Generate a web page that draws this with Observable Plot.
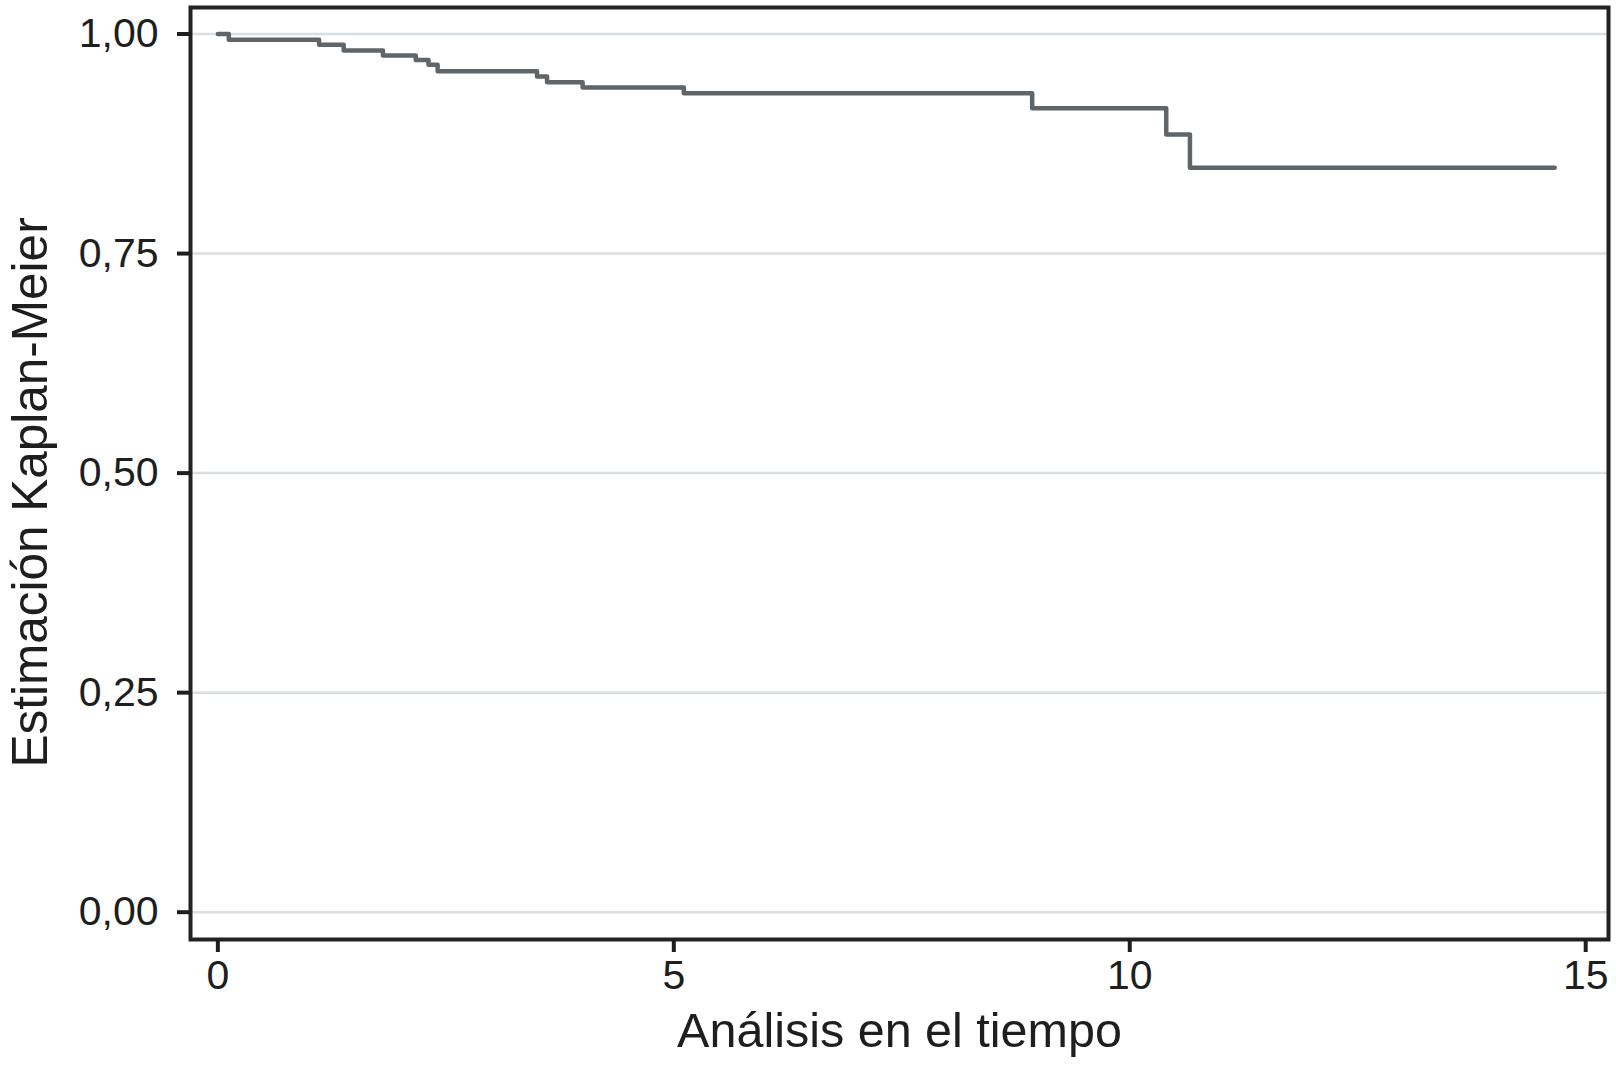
<!DOCTYPE html>
<html>
<head>
<meta charset="utf-8">
<script src="https://cdn.jsdelivr.net/npm/d3@7"></script>
<script src="https://cdn.jsdelivr.net/npm/@observablehq/plot@0.6"></script>
<style>
  html, body { margin: 0; padding: 0; background: #fff; }
</style>
</head>
<body>
<div id="chart"></div>
<script>
// Kaplan-Meier step curve
const times = [0, 0.12, 1.11, 1.38, 1.81, 2.17, 2.31, 2.41, 3.50, 3.61, 4.00, 5.11, 8.93, 10.40, 10.66, 14.66];
const survival = [1.0, 0.9934, 0.9877, 0.9812, 0.9755, 0.9705, 0.9650, 0.9577, 0.9516, 0.9451, 0.9390, 0.9326, 0.9155, 0.8856, 0.8476, 0.8476];
const yTicks = [0, 0.25, 0.5, 0.75, 1];
const xTicks = [0, 5, 10, 15];
const xTitle = "Análisis en el tiempo";
const yTitle = "Estimación Kaplan-Meier";

const data = times.map((t, i) => ({t, s: survival[i]}));
const fmtY = d => d.toFixed(2).replace(".", ",");

const chart = Plot.plot({
  width: 1616,
  height: 1066,
  marginLeft: 190,
  marginRight: 8,
  marginTop: 7,
  marginBottom: 127,
  style: {fontFamily: "'Liberation Sans', Arial, Helvetica, sans-serif", background: "#fff"},
  x: {domain: [-0.30, 15.25]},
  y: {domain: [-0.0311, 1.0302]},
  marks: [
    Plot.gridY(yTicks, {stroke: "#dadfe3", strokeOpacity: 1, strokeWidth: 2.5}),
    Plot.line(data, {x: "t", y: "s", curve: "step-after", stroke: "#606569", strokeWidth: 4.5}),
    Plot.frame({stroke: "#222", strokeWidth: 4}),
    Plot.axisY(yTicks, {anchor: "left", tickSize: 13, tickPadding: 19, fontSize: 41, tickFormat: fmtY, label: null, color: "#1e1e1e", strokeWidth: 4}),
    Plot.axisX(xTicks, {anchor: "bottom", tickSize: 13, tickPadding: 7, fontSize: 41, tickFormat: d => String(d), label: null, color: "#1e1e1e", strokeWidth: 4}),
    Plot.text([xTitle], {frameAnchor: "bottom", text: d => d, dy: 107, lineAnchor: "bottom", fontSize: 48.5, fill: "#1e1e1e"}),
    Plot.text([yTitle], {frameAnchor: "left", text: d => d, rotate: -90, dx: -144, dy: 19, lineAnchor: "bottom", textAnchor: "middle", fontSize: 49.5, fill: "#1e1e1e"})
  ]
});
document.getElementById("chart").appendChild(chart);
</script>
</body>
</html>
